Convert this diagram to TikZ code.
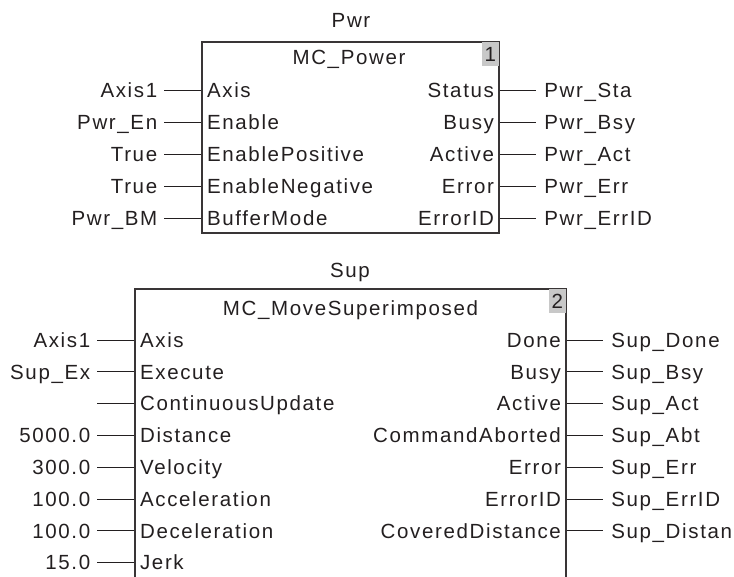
\documentclass[tikz,border=0pt]{standalone}
\usepackage{fontspec}
\newfontfamily\fbfont[LetterSpace=8]{Liberation Sans}
\usetikzlibrary{positioning}
\definecolor{fbInk}{RGB}{35,31,32}
\definecolor{fbNum}{RGB}{200,200,200}

\tikzset{
  fbtext/.style={font=\fbfont\fontsize{20.5}{23}\selectfont,text=fbInk,inner ysep=0pt,inner xsep=5.5pt,text height=14.7pt,text depth=0pt},
  fbin/.style={fbtext,inner xsep=7pt},
  fbout/.style={fbtext,inner xsep=8.5pt},
  fbbox/.style={draw=fbInk!90,line width=1.2pt,inner sep=0pt},
  fbnum/.style={fbtext,fill=fbNum,inner sep=0pt},
  pinline/.style={draw=fbInk,line width=1pt}
}

\begin{document}
\begin{tikzpicture}[x=1pt,y=-1pt]
\useasboundingbox (0,0) rectangle (734,576);
\clip (0,0) rectangle (734,576);
% MC_Power block
\node[fbbox,minimum width=297pt,minimum height=191pt] (pwr) at (350.5,137.5) {};
\node[fbtext] (pwrname) at (351,20) {Pwr};
\node[fbtext] (pwrtype) at (349,57) {MC\_Power};
\node[fbnum,anchor=north east,minimum width=17pt,minimum height=23.5pt] (pwrnum) at ([xshift=-0.6pt,yshift=-0.6pt]pwr.north east) {1};
\foreach \ext/\pin [count=\i from 0] in {Axis1/Axis,Pwr\_En/Enable,True/EnablePositive,True/EnableNegative,Pwr\_BM/BufferMode}{
  \pgfmathsetmacro\yy{90+32*\i}
  \node[fbtext,anchor=west] (pwr-p\i) at (pwr.west |- 0,\yy) {\pin};
  \node[fbin,anchor=east] (pwr-x\i) at ([xshift=-37pt]pwr-p\i.west) {\ext};
  \draw[pinline] (pwr-x\i.east) -- (pwr-p\i.west);
}
\foreach \pin/\ext [count=\i from 0] in {Status/Pwr\_Sta,Busy/Pwr\_Bsy,Active/Pwr\_Act,Error/Pwr\_Err,ErrorID/Pwr\_ErrID}{
  \pgfmathsetmacro\yy{90+32*\i}
  \node[fbtext,anchor=east] (pwr-q\i) at (pwr.east |- 0,\yy) {\pin};
  \node[fbout,anchor=west] (pwr-y\i) at ([xshift=36pt]pwr-q\i.east) {\ext};
  \draw[pinline] (pwr-q\i.east) -- (pwr-y\i.west);
}
% MC_MoveSuperimposed block
\node[fbbox,minimum width=431pt,minimum height=321pt] (sup) at (350.5,449.5) {};
\node[fbtext] (supname) at (350,270) {Sup};
\node[fbtext] (suptype) at (350.5,308) {MC\_MoveSuperimposed};
\node[fbnum,anchor=north east,minimum width=17pt,minimum height=23.5pt] (supnum) at ([xshift=-0.6pt,yshift=-0.6pt]sup.north east) {2};
\foreach \ext/\pin [count=\i from 0] in {Axis1/Axis,Sup\_Ex/Execute,/ContinuousUpdate,5000.0/Distance,300.0/Velocity,100.0/Acceleration,100.0/Deceleration,15.0/Jerk}{
  \pgfmathsetmacro\yy{340+31.8*\i}
  \node[fbtext,anchor=west] (sup-p\i) at (sup.west |- 0,\yy) {\pin};
  \node[fbin,anchor=east] (sup-x\i) at ([xshift=-37pt]sup-p\i.west) {\ext};
  \draw[pinline] (sup-x\i.east) -- (sup-p\i.west);
}
\foreach \pin/\ext [count=\i from 0] in {Done/Sup\_Done,Busy/Sup\_Bsy,Active/Sup\_Act,CommandAborted/Sup\_Abt,Error/Sup\_Err,ErrorID/Sup\_ErrID,CoveredDistance/Sup\_Distan}{
  \pgfmathsetmacro\yy{340+31.8*\i}
  \node[fbtext,anchor=east] (sup-q\i) at (sup.east |- 0,\yy) {\pin};
  \node[fbout,anchor=west] (sup-y\i) at ([xshift=36pt]sup-q\i.east) {\ext};
  \draw[pinline] (sup-q\i.east) -- (sup-y\i.west);
}
\end{tikzpicture}
\end{document}
